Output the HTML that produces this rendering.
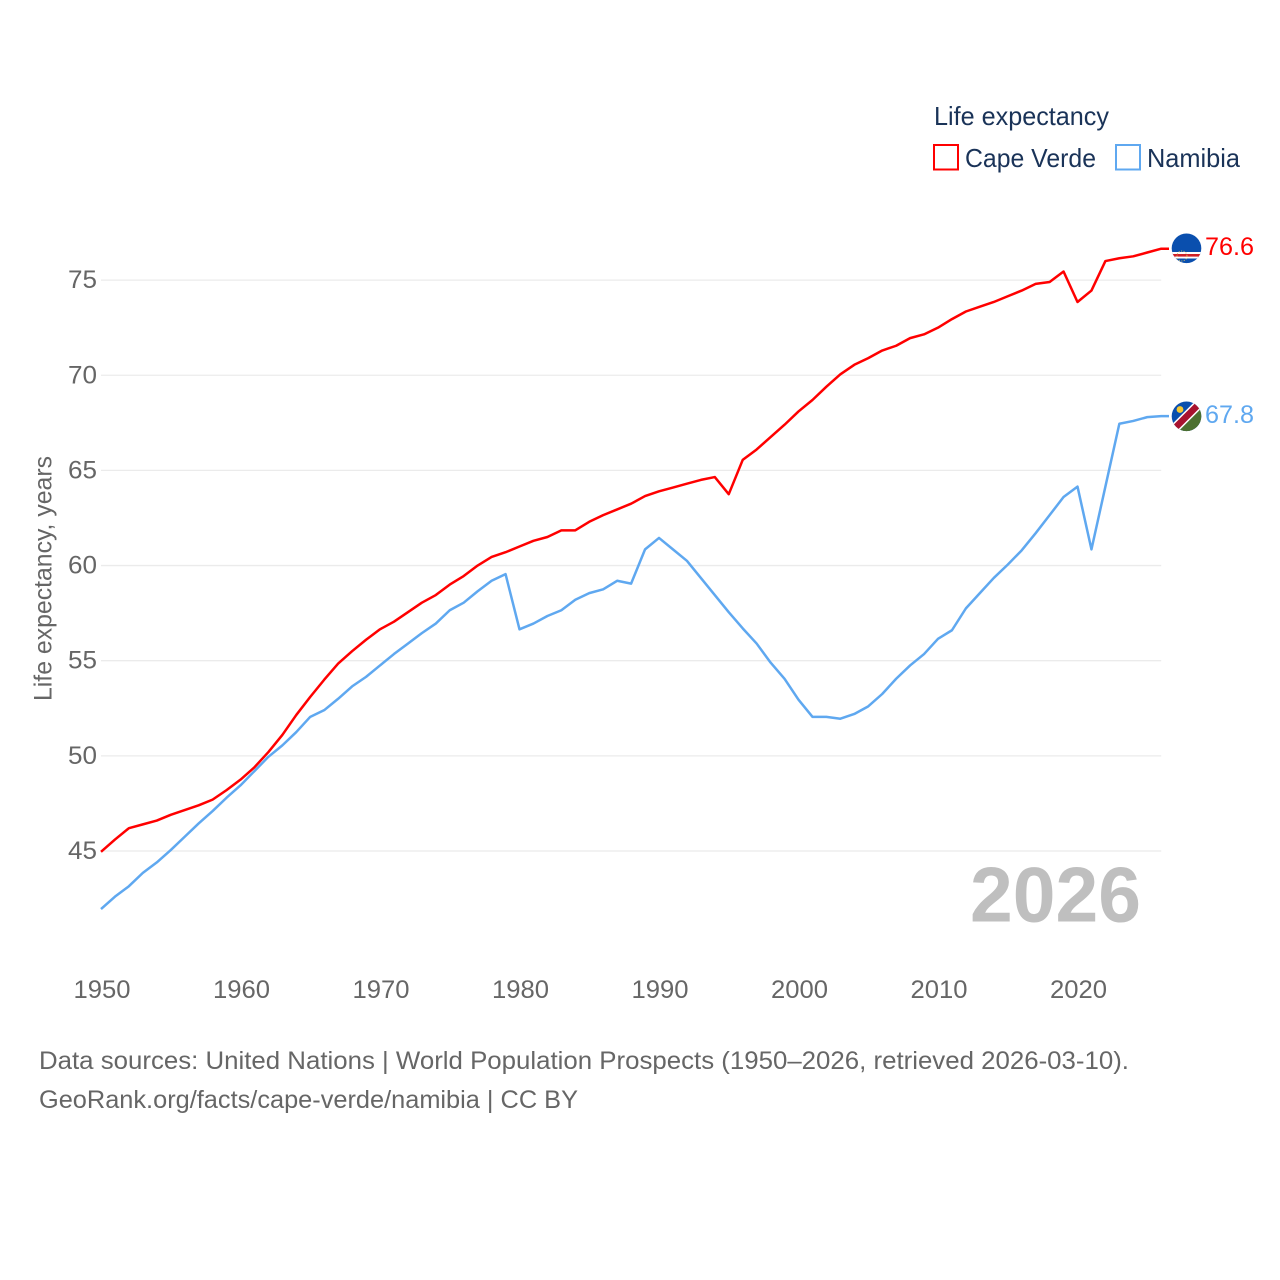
<!DOCTYPE html>
<html lang="en">
<head>
<meta charset="utf-8">
<title>Life expectancy: Cape Verde vs Namibia</title>
<style>
html,body{margin:0;padding:0;background:#fff;}
svg{display:block;}
text{font-family:"Liberation Sans",sans-serif;}
</style>
</head>
<body>
<svg id="chart" xmlns="http://www.w3.org/2000/svg" width="1280" height="1280" viewBox="0 0 1280 1280">
  <defs>
    <clipPath id="clip-cv"><circle cx="1186.5" cy="248.3" r="14.8"/></clipPath>
    <clipPath id="clip-na"><circle cx="1186.5" cy="416.3" r="14.8"/></clipPath>
  </defs>
  <rect width="1280" height="1280" fill="#fff"/>
  <g id="grid"></g>
  <g id="yticks"></g>
  <g id="xticks"></g>
  <text transform="translate(51.5,701) rotate(-90)" font-size="25" fill="#666" textLength="245" lengthAdjust="spacingAndGlyphs">Life expectancy, years</text>
  <text x="970" y="921.5" font-size="78" font-weight="bold" fill="#bfbfbf" textLength="171" lengthAdjust="spacingAndGlyphs">2026</text>
  <g id="series"></g>

  <g clip-path="url(#clip-cv)">
    <rect x="1170" y="232" width="34" height="34" fill="#0a4fae"/>
    <rect x="1170" y="252" width="34" height="6.5" fill="#fff"/>
    <rect x="1170" y="254" width="34" height="2.6" fill="#cf2027"/>
    <circle cx="1182" cy="256" r="5" fill="none" stroke="#d8c26a" stroke-width="1" stroke-dasharray="1 1.5"/>
  </g>
  <g clip-path="url(#clip-na)">
    <rect x="1170" y="400" width="34" height="34" fill="#0a4fae"/>
    <polygon points="1165,440 1210,395 1210,440" fill="#4c7030"/>
    <line x1="1170" y1="433" x2="1203" y2="400" stroke="#fff" stroke-width="9.5"/>
    <line x1="1170" y1="433" x2="1203" y2="400" stroke="#a8122f" stroke-width="6.5"/>
    <circle cx="1180" cy="409.5" r="3.4" fill="#f5c832"/>
  </g>

  <text x="1205" y="255" font-size="25" fill="#ff0000" textLength="49" lengthAdjust="spacingAndGlyphs">76.6</text>
  <text x="1205" y="423" font-size="25" fill="#5fa8f0" textLength="49" lengthAdjust="spacingAndGlyphs">67.8</text>

  <g>
    <text x="934" y="125" font-size="26" fill="#1a3358" textLength="175" lengthAdjust="spacingAndGlyphs">Life expectancy</text>
    <g>
      <rect x="934" y="145" width="24" height="24.5" fill="none" stroke="#ff0000" stroke-width="2"/>
      <text x="965" y="167" font-size="26" fill="#1a3358" textLength="131" lengthAdjust="spacingAndGlyphs">Cape Verde</text>
    </g>
    <g>
      <rect x="1116" y="145" width="24" height="24.5" fill="none" stroke="#5fa8f0" stroke-width="2"/>
      <text x="1147" y="167" font-size="26" fill="#1a3358" textLength="93" lengthAdjust="spacingAndGlyphs">Namibia</text>
    </g>
  </g>

  <text x="39" y="1069" font-size="25" fill="#666" textLength="1090" lengthAdjust="spacingAndGlyphs">Data sources: United Nations | World Population Prospects (1950–2026, retrieved 2026-03-10).</text>
  <text x="39" y="1108" font-size="25" fill="#666" textLength="539" lengthAdjust="spacingAndGlyphs">GeoRank.org/facts/cape-verde/namibia | CC BY</text>
</svg>
<script>
const firstYear = 1950;
const yTickValues = [45, 50, 55, 60, 65, 70, 75];
const xTickValues = [1950, 1960, 1970, 1980, 1990, 2000, 2010, 2020];
const capeVerde = [44.96,45.6,46.2,46.4,46.6,46.9,47.15,47.4,47.7,48.2,48.75,49.4,50.2,51.1,52.15,53.1,54,54.85,55.5,56.1,56.65,57.05,57.55,58.05,58.45,59,59.45,60,60.45,60.7,61,61.3,61.5,61.85,61.85,62.3,62.65,62.95,63.25,63.65,63.9,64.1,64.3,64.5,64.65,63.75,65.55,66.1,66.75,67.4,68.1,68.7,69.4,70.05,70.55,70.9,71.3,71.55,71.95,72.15,72.5,72.95,73.35,73.6,73.85,74.15,74.45,74.8,74.9,75.45,73.85,74.45,76,76.15,76.25,76.45,76.65];
const namibia = [41.95,42.6,43.15,43.85,44.4,45.05,45.75,46.45,47.1,47.8,48.45,49.2,49.95,50.55,51.25,52.05,52.4,53,53.65,54.15,54.75,55.35,55.9,56.45,56.95,57.65,58.05,58.65,59.2,59.55,56.65,56.95,57.35,57.65,58.2,58.55,58.75,59.2,59.05,60.85,61.45,60.85,60.25,59.35,58.45,57.55,56.7,55.9,54.9,54.05,52.95,52.05,52.05,51.95,52.2,52.6,53.25,54.05,54.75,55.35,56.15,56.6,57.75,58.55,59.35,60.05,60.8,61.7,62.65,63.6,64.15,60.85,64.15,67.45,67.6,67.8,67.85];

const NS = 'http://www.w3.org/2000/svg';
function xScale(year) { return 101 + (year - 1950) * 13.95; }
function yScale(value) { return 851 - (value - 45) * 19.03; }

const gridGroup = document.getElementById('grid');
const yTickGroup = document.getElementById('yticks');
const xTickGroup = document.getElementById('xticks');
const seriesGroup = document.getElementById('series');

yTickValues.forEach(function (v) {
  const line = document.createElementNS(NS, 'line');
  
  
  line.setAttribute('x1', xScale(1950));
  line.setAttribute('x2', xScale(2026));
  line.setAttribute('y1', yScale(v));
  line.setAttribute('y2', yScale(v));
  line.setAttribute('stroke', '#ebebeb');
  line.setAttribute('stroke-width', 1.3);
  gridGroup.appendChild(line);

  const label = document.createElementNS(NS, 'text');
  
  
  label.setAttribute('x', 68);
  label.setAttribute('y', yScale(v) + 8);
  label.setAttribute('font-size', 25);
  label.setAttribute('fill', '#666');
  label.setAttribute('textLength', 29);
  label.setAttribute('lengthAdjust', 'spacingAndGlyphs');
  label.textContent = String(v);
  yTickGroup.appendChild(label);
});

xTickValues.forEach(function (year) {
  const label = document.createElementNS(NS, 'text');
  
  
  label.setAttribute('x', xScale(year) - 27.5);
  label.setAttribute('y', 998);
  label.setAttribute('font-size', 25);
  label.setAttribute('fill', '#666');
  label.setAttribute('textLength', 57);
  label.setAttribute('lengthAdjust', 'spacingAndGlyphs');
  label.textContent = String(year);
  xTickGroup.appendChild(label);
});

function pathFor(values) {
  const pts = values.map(function (v, i) {
    return xScale(firstYear + i).toFixed(2) + ',' + yScale(v).toFixed(2);
  });
  const last = values[values.length - 1];
  pts.push('1169,' + yScale(last).toFixed(2));
  return 'M' + pts.join(' L');
}

const namibiaLine = document.createElementNS(NS, 'path');


namibiaLine.setAttribute('d', pathFor(namibia));
namibiaLine.setAttribute('fill', 'none');
namibiaLine.setAttribute('stroke', '#5fa8f0');
namibiaLine.setAttribute('stroke-width', 2.5);
namibiaLine.setAttribute('stroke-linejoin', 'round');
seriesGroup.appendChild(namibiaLine);

const capeVerdeLine = document.createElementNS(NS, 'path');


capeVerdeLine.setAttribute('d', pathFor(capeVerde));
capeVerdeLine.setAttribute('fill', 'none');
capeVerdeLine.setAttribute('stroke', '#ff0000');
capeVerdeLine.setAttribute('stroke-width', 2.5);
capeVerdeLine.setAttribute('stroke-linejoin', 'round');
seriesGroup.appendChild(capeVerdeLine);
</script>
</body>
</html>
